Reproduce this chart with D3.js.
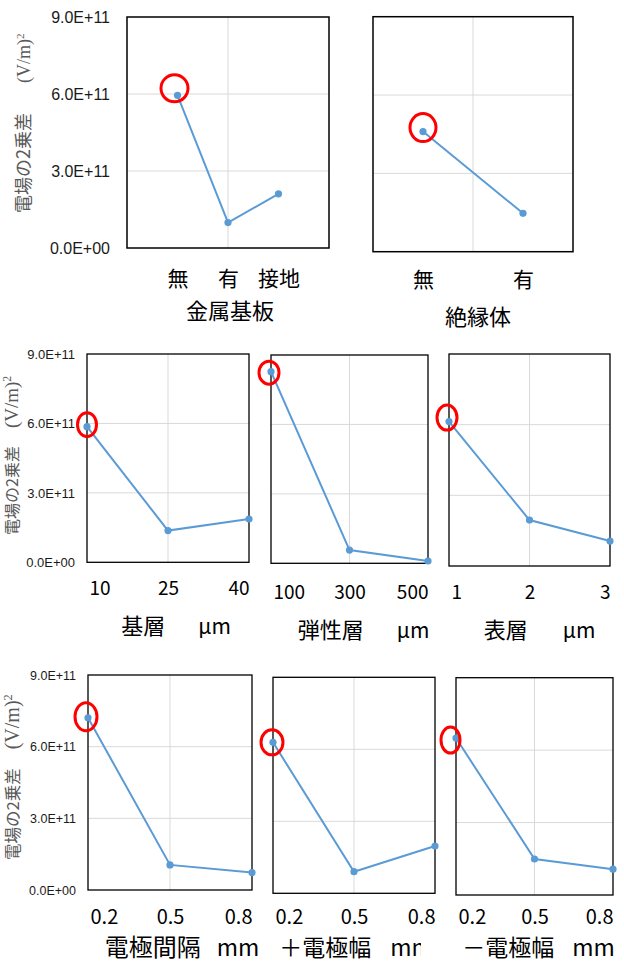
<!DOCTYPE html>
<html>
<head>
<meta charset="utf-8">
<script src="https://cdn.jsdelivr.net/npm/d3@7"></script>
<style>
  body { margin: 0; background: #fff; }
</style>
</head>
<body>
<svg id="chart"></svg>
<script>
// Values (squared electric-field difference, (V/m)^2).
const metalCats = ['無', '有', '接地'];
const metalVals = [5.95e11, 0.99e11, 2.11e11];
const insulCats = ['無', '有'];
const insulVals = [4.6e11, 1.47e11];
const baseCats = ['10', '25', '40'];
const baseVals = [5.86e11, 1.37e11, 1.87e11];
const elasticCats = ['100', '300', '500'];
const elasticVals = [8.28e11, 0.57e11, 0.1e11];
const surfaceCats = ['1', '2', '3'];
const surfaceVals = [6.13e11, 1.95e11, 1.06e11];
const gapCats = ['0.2', '0.5', '0.8'];
const gapVals = [7.21e11, 1.05e11, 0.73e11];
const plusCats = ['0.2', '0.5', '0.8'];
const plusVals = [6.29e11, 0.9e11, 1.97e11];
const minusCats = ['0.2', '0.5', '0.8'];
const minusVals = [6.5e11, 1.49e11, 1.07e11];
const yTicks = [0, 3e11, 6e11, 9e11];
const yMax = 9e11;

const width = 624;
const height = 963;
const BLUE = '#5B9BD5';
const JP = '"Noto Sans CJK JP", "Noto Sans", sans-serif';

const svg = d3.select('#chart')
  .attr('width', width)
  .attr('height', height)
  .attr('viewBox', `0 0 ${width} ${height}`);

// 9.0E+11 style labels, like Excel.
const sci = (v) => {
  const [m, e] = d3.format('.1e')(v).split('e');
  return `${m}E${e[0]}${e.slice(1).padStart(2, '0')}`;
};

// Plot frames and label placement for each small chart.
const panels = [
  { cats: metalCats, vals: metalVals, name: '金属基板', unit: '', x: [127, 329], y: [248, 17], pad: 1,
    axis: { pad: 17, size: 16 }, catSize: 21, catY: 286, titleSize: 22, titleY: 319, titleDx: 2,
    stroke: 1.5, mark: { rx: 13.5, ry: 13.5, dx: -3, dy: -7 } },
  { cats: insulCats, vals: insulVals, name: '絶縁体', unit: '', x: [373, 573], y: [251.7, 16.7], pad: 0.5,
    catSize: 21, catY: 287, titleSize: 22, titleY: 325, titleDx: 5,
    stroke: 1.5, mark: { rx: 13, ry: 14, dx: 0, dy: -4 } },
  { cats: baseCats, vals: baseVals, name: '基層', unit: 'μm', x: [87, 249], y: [562.3, 354], pad: 0,
    axis: { pad: 12, size: 13 }, catSize: 19, catY: 595, titleSize: 22, unitSize: 21, gap: 33, titleY: 634, titleDx: 8,
    edge: true, stroke: 1.3, mark: { rx: 9.5, ry: 12, dx: 0, dy: -2 } },
  { cats: elasticCats, vals: elasticVals, name: '弾性層', unit: 'μm', x: [271, 428], y: [563.3, 355], pad: 0,
    catSize: 19, catY: 599, titleSize: 22, unitSize: 21, gap: 33, titleY: 638, titleDx: 14,
    edge: true, stroke: 1.3, mark: { rx: 10, ry: 11.5, dx: -2, dy: 1 } },
  { cats: surfaceCats, vals: surfaceVals, name: '表層', unit: 'μm', x: [449, 610], y: [566, 354], pad: 0,
    catSize: 19, catY: 599, titleSize: 22, unitSize: 21, gap: 35, titleY: 638, titleDx: 10,
    edge: true, stroke: 1.3, mark: { rx: 10, ry: 12.5, dx: -2, dy: -4 } },
  { cats: gapCats, vals: gapVals, name: '電極間隔', unit: 'mm', x: [88, 252], y: [890, 675], pad: 0,
    axis: { pad: 12, size: 12.5 }, catSize: 20, catY: 924, titleSize: 24, unitSize: 23, gap: 16, titleY: 956, titleDx: 12,
    edge: true, stroke: 1.3, mark: { rx: 11, ry: 14, dx: -2, dy: -1 } },
  { cats: plusCats, vals: plusVals, name: '＋電極幅', unit: 'mm', x: [273, 435], y: [893.3, 677.3], pad: 0,
    catSize: 20, catY: 924, titleSize: 23, unitSize: 23, gap: 19, titleY: 956, titleDx: 2, clipRight: 421,
    edge: true, stroke: 1.3, mark: { rx: 11, ry: 12.5, dx: -1, dy: 0 } },
  { cats: minusCats, vals: minusVals, name: '－電極幅', unit: 'mm', x: [456, 613], y: [895, 677.7], pad: 0,
    catSize: 20, catY: 924, titleSize: 23, unitSize: 23, gap: 18, titleY: 956, titleDx: 4,
    edge: true, stroke: 1.3, mark: { rx: 9.5, ry: 13, dx: -5.5, dy: 2 } },
];

// Rotated value-axis titles, one per row.
const yTitles = [
  { x: 30, y: 213, size: 18, serif: 18, gap: 30 },
  { x: 18, y: 535, size: 16, serif: 19, gap: 18 },
  { x: 18.5, y: 860, size: 16.5, serif: 20, gap: 19 },
];

panels.forEach((p, i) => {
  const g = svg.append('g');
  const xScale = d3.scalePoint().domain(p.cats).range(p.x).padding(p.pad);
  const yScale = d3.scaleLinear().domain([0, yMax]).range(p.y);

  // Gridlines.
  g.selectAll('.hgrid')
    .data(yTicks.filter((t) => t > 0 && t < yMax))
    .join('line')
    .attr('x1', p.x[0]).attr('x2', p.x[1])
    .attr('y1', (d) => yScale(d)).attr('y2', (d) => yScale(d))
    .attr('stroke', '#D9D9D9').attr('stroke-width', 1);
  const mid = (p.x[0] + p.x[1]) / 2;
  g.append('line')
    .attr('x1', mid).attr('x2', mid)
    .attr('y1', p.y[0]).attr('y2', p.y[1])
    .attr('stroke', '#D9D9D9').attr('stroke-width', 1);

  // Plot frame.
  g.append('rect')
    .attr('x', p.x[0]).attr('y', p.y[1])
    .attr('width', p.x[1] - p.x[0]).attr('height', p.y[0] - p.y[1])
    .attr('fill', 'none').attr('stroke', '#000').attr('stroke-width', p.stroke);

  // Value axis labels (only the leftmost chart of each row).
  if (p.axis) {
    g.append('g')
      .attr('transform', `translate(${p.x[0]},0)`)
      .call(d3.axisLeft(yScale).tickValues(yTicks).tickSize(0).tickPadding(p.axis.pad).tickFormat(sci))
      .call((a) => a.select('.domain').remove())
      .call((a) => a.selectAll('text')
        .attr('font-family', '"Liberation Sans", Arial, sans-serif')
        .attr('font-size', p.axis.size)
        .attr('fill', '#1a1a1a'));
  }

  // Category axis labels.
  const last = p.cats.length - 1;
  g.append('g')
    .attr('transform', `translate(0,${p.y[0]})`)
    .call(d3.axisBottom(xScale).tickSize(0))
    .call((a) => a.select('.domain').remove())
    .call((a) => a.selectAll('text')
      .attr('y', p.catY - p.y[0])
      .attr('dy', 0)
      .attr('font-family', JP)
      .attr('font-size', p.catSize)
      .attr('fill', '#000')
      .attr('text-anchor', (d, k) => {
        if (!p.edge) return 'middle';
        if (k === 0) return 'start';
        return k === last ? 'end' : 'middle';
      })
      .attr('dx', (d, k) => (p.edge && k === 0 ? 2 : 0)));

  // Category title, with unit.
  const title = g.append('text')
    .attr('x', mid + p.titleDx)
    .attr('y', p.titleY)
    .attr('text-anchor', 'middle')
    .attr('font-family', JP)
    .attr('fill', '#000');
  title.append('tspan').attr('font-size', p.titleSize).text(p.name);
  if (p.unit) {
    title.append('tspan').attr('dx', p.gap).attr('font-size', p.unitSize).text(p.unit);
  }
  if (p.clipRight) {
    svg.append('clipPath').attr('id', `tclip${i}`)
      .append('rect').attr('x', 0).attr('y', p.y[0]).attr('width', p.clipRight).attr('height', height - p.y[0]);
    title.attr('clip-path', `url(#tclip${i})`);
  }

  // Series line and markers.
  const pts = p.cats.map((c, k) => [xScale(c), yScale(p.vals[k])]);
  g.append('path')
    .datum(pts)
    .attr('d', d3.line())
    .attr('fill', 'none')
    .attr('stroke', BLUE)
    .attr('stroke-width', 2);
  g.selectAll('.dot')
    .data(pts)
    .join('circle')
    .attr('cx', (d) => d[0]).attr('cy', (d) => d[1])
    .attr('r', 3.6)
    .attr('fill', BLUE);

  // Red highlight around the first level.
  g.append('ellipse')
    .attr('cx', pts[0][0] + p.mark.dx)
    .attr('cy', pts[0][1] + p.mark.dy)
    .attr('rx', p.mark.rx).attr('ry', p.mark.ry)
    .attr('fill', 'none')
    .attr('stroke', '#FF0000')
    .attr('stroke-width', 3);
});

yTitles.forEach((t) => {
  const txt = svg.append('text')
    .attr('transform', `translate(${t.x},${t.y}) rotate(-90)`)
    .attr('fill', '#595959')
    .attr('font-size', t.size)
    .attr('font-family', JP);
  txt.append('tspan').text('電場の2乗差');
  txt.append('tspan')
    .attr('dx', t.gap)
    .attr('font-family', '"Liberation Serif", "Times New Roman", serif')
    .attr('font-size', t.serif)
    .text('(V/m)');
  txt.append('tspan')
    .attr('font-family', '"Liberation Serif", "Times New Roman", serif')
    .attr('font-size', t.serif * 0.62)
    .attr('dy', -t.serif * 0.35)
    .text('2');
});
</script>
</body>
</html>
